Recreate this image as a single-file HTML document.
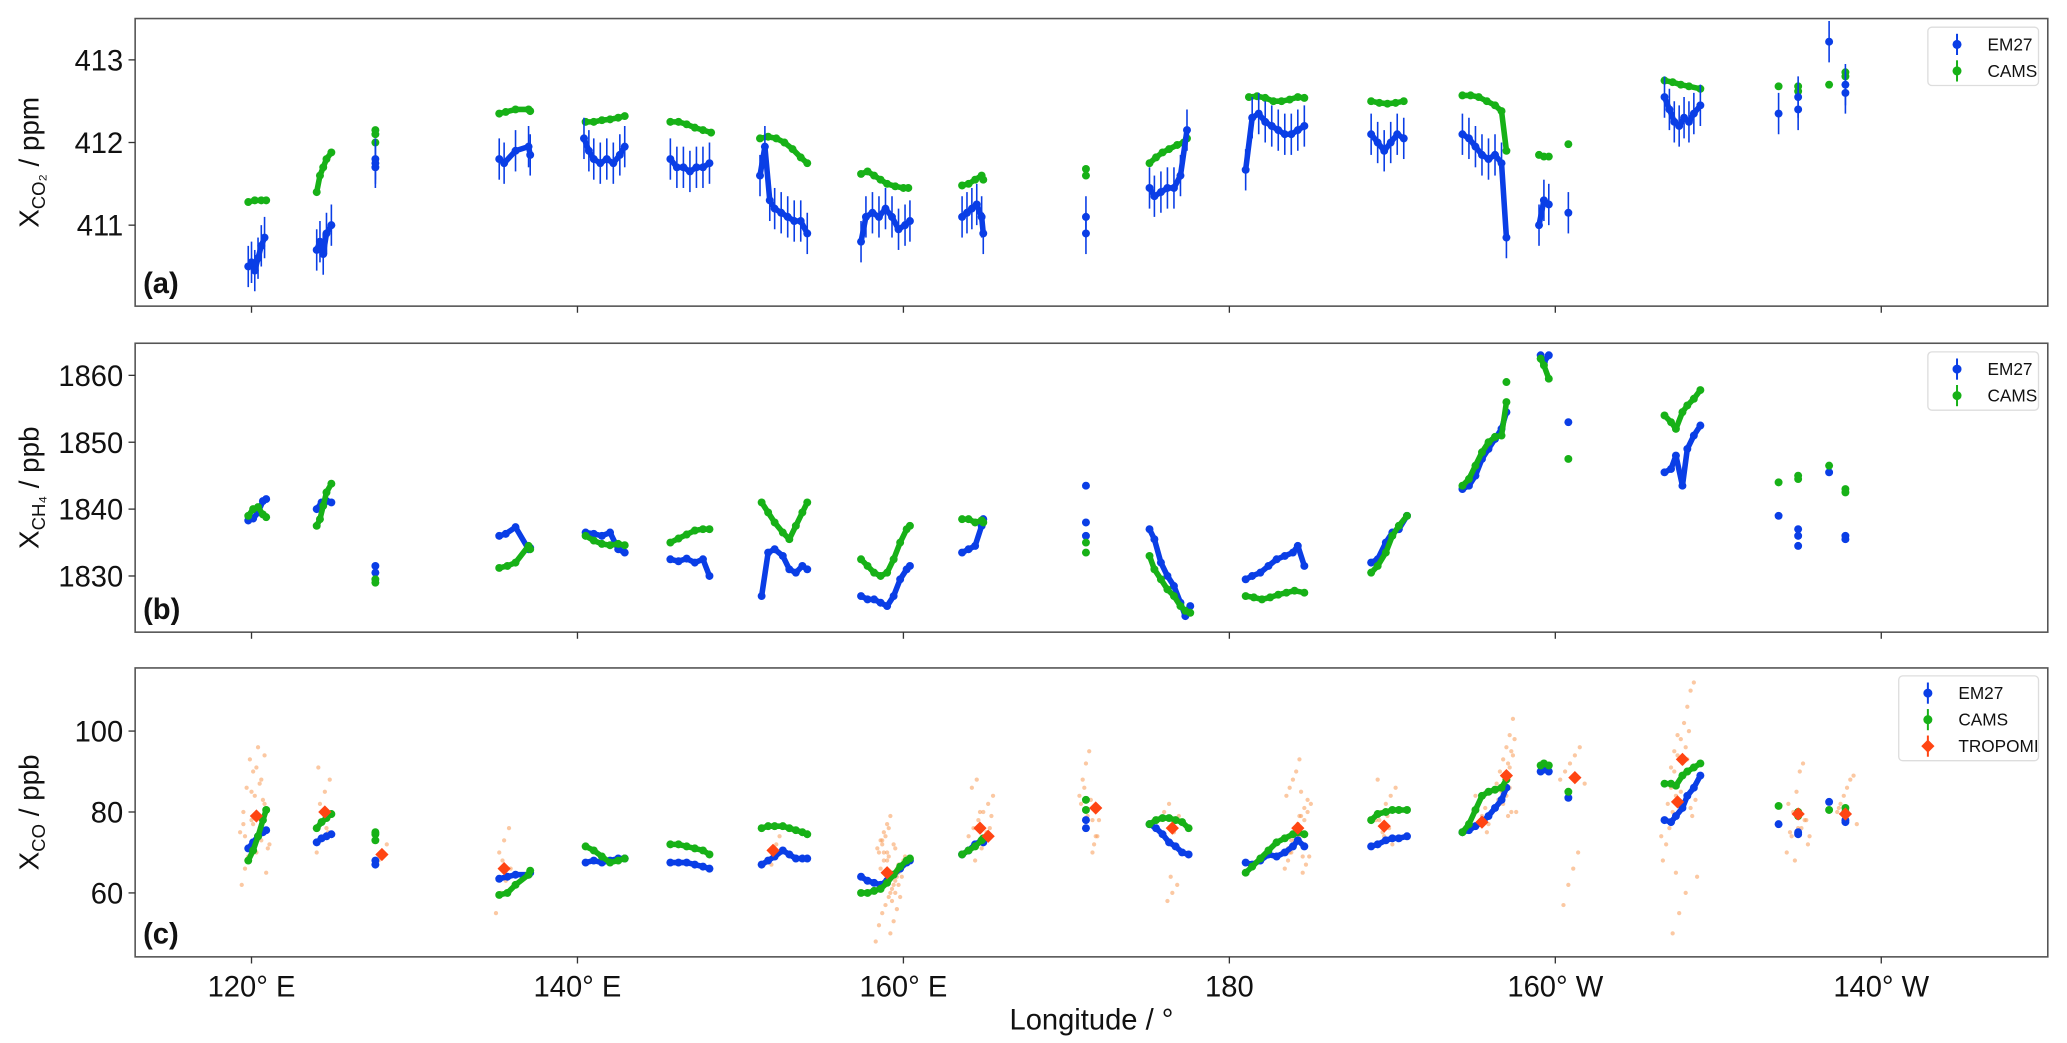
<!DOCTYPE html>
<html><head><meta charset="utf-8"><style>
html,body{margin:0;padding:0;background:#fff;}
svg{display:block;font-family:"Liberation Sans","DejaVu Sans",sans-serif;}
</style></head><body>
<svg id="chart" width="2067" height="1043" viewBox="0 0 1560 787" preserveAspectRatio="none" xmlns="http://www.w3.org/2000/svg"></svg>
<script>
// ---------- data ----------
const xTickLon = [120,140,160,180,200,220];
const xTickLabels = ["120° E","140° E","160° E","180","160° W","140° W"];
const aTicks = [411,412,413];
const bTicks = [1830,1840,1850,1860];
const cTicks = [60,80,100];

const aEmLon = [119.8,120.0,120.2,120.4,120.6,120.8, 124.0,124.2,124.4,124.6,124.9, 127.6,127.6,127.6, 135.2,135.5,136.2,137.0,137.1, 140.4,140.7,141.0,141.4,141.8,142.2,142.6,142.9, 145.7,146.1,146.5,146.9,147.3,147.7,148.1, 151.2,151.5,151.8,152.1,152.5,152.9,153.3,153.7,154.1, 157.4,157.7,158.1,158.5,158.9,159.3,159.7,160.1,160.4, 163.6,163.9,164.2,164.5,164.8,164.9, 171.2,171.2, 175.1,175.4,175.8,176.2,176.6,177.0,177.4, 181.0,181.4,181.8,182.2,182.6,183.0,183.4,183.8,184.2,184.6, 188.7,189.1,189.5,189.9,190.3,190.7, 194.3,194.7,195.1,195.5,195.9,196.3,196.7,197.0, 199.0,199.3,199.6,200.8, 206.7,207.0,207.3,207.6,207.9,208.2,208.5,208.9, 213.7,214.9,214.9,216.8,217.8,217.8];
const aEmVal = [410.5,410.55,410.45,410.6,410.75,410.85, 410.7,410.8,410.65,410.9,411.0, 411.7,411.8,411.75, 411.8,411.75,411.9,411.95,411.85, 412.05,411.9,411.8,411.75,411.8,411.75,411.85,411.95, 411.8,411.7,411.7,411.65,411.7,411.7,411.75, 411.6,411.95,411.3,411.2,411.15,411.1,411.05,411.05,410.9, 410.8,411.1,411.15,411.1,411.2,411.1,410.95,411.0,411.05, 411.1,411.15,411.2,411.25,411.1,410.9, 411.1,410.9, 411.45,411.35,411.4,411.45,411.45,411.6,412.15, 411.67,412.3,412.35,412.25,412.2,412.15,412.1,412.1,412.15,412.2, 412.1,412.0,411.9,412.0,412.1,412.05, 412.1,412.05,411.95,411.85,411.8,411.85,411.75,410.85, 411.0,411.3,411.25,411.15, 412.55,412.4,412.25,412.2,412.3,412.25,412.35,412.45, 412.35,412.4,412.55,413.22,412.7,412.6];
const aEmErr = 0.25;
const aCamsLon = [119.8,120.2,120.6,120.9, 124.0,124.2,124.4,124.6,124.9, 127.6,127.6,127.6, 135.2,135.6,136.2,137.0,137.1, 140.5,141.0,141.5,142.0,142.5,142.9, 145.7,146.2,146.7,147.2,147.7,148.2, 151.2,151.7,152.2,152.7,153.2,153.7,154.1, 157.4,157.8,158.2,158.6,159.0,159.5,160.0,160.3, 163.6,164.0,164.4,164.8,164.9, 171.2,171.2, 175.1,175.5,175.9,176.3,176.8,177.2,177.4, 181.2,181.7,182.2,182.7,183.2,183.7,184.2,184.6, 188.7,189.2,189.7,190.2,190.7, 194.3,194.8,195.3,195.8,196.3,196.7,197.0, 199.0,199.3,199.6,200.8, 206.7,207.2,207.7,208.2,208.9, 213.7,214.9,214.9,216.8,217.8,217.8];
const aCamsVal = [411.28,411.3,411.3,411.3, 411.4,411.6,411.7,411.8,411.88, 412.0,412.1,412.15, 412.35,412.37,412.4,412.4,412.38, 412.25,412.25,412.27,412.28,412.3,412.32, 412.25,412.25,412.22,412.18,412.15,412.12, 412.05,412.07,412.05,412.0,411.92,411.82,411.75, 411.62,411.65,411.6,411.55,411.5,411.47,411.45,411.45, 411.48,411.5,411.55,411.6,411.55, 411.68,411.6, 411.75,411.82,411.88,411.92,411.97,412.0,412.05, 412.55,412.56,412.54,412.5,412.5,412.52,412.55,412.54, 412.5,412.48,412.47,412.48,412.5, 412.57,412.57,412.55,412.5,412.45,412.38,411.9, 411.85,411.83,411.83,411.98, 412.75,412.73,412.7,412.68,412.65, 412.68,412.68,412.62,412.7,412.8,412.85];

const bEmLon = [119.8,120.1,120.4,120.7,120.9, 124.0,124.3,124.6,124.9, 127.6,127.6, 135.2,135.6,136.2,137.0,137.1, 140.5,141.0,141.5,142.0,142.5,142.9, 145.7,146.2,146.7,147.2,147.7,148.1, 151.3,151.7,152.1,152.6,153.0,153.4,153.8,154.1, 157.4,157.8,158.2,158.6,159.0,159.4,159.8,160.2,160.4, 163.6,164.0,164.4,164.8,164.9, 171.2,171.2,171.2, 175.1,175.4,175.8,176.2,176.6,177.0,177.3,177.6, 181.0,181.4,181.9,182.4,182.9,183.4,183.9,184.2,184.6, 188.7,189.1,189.6,190.0,190.4,190.9, 194.3,194.7,195.1,195.5,195.9,196.3,196.7,197.0, 199.1,199.3,199.6,200.8, 206.7,207.1,207.4,207.8,208.1,208.5,208.9, 213.7,214.9,214.9,214.9,216.8,217.8,217.8];
const bEmVal = [1838.3,1838.6,1839.5,1841.2,1841.5, 1840,1841,1841.2,1841, 1831.5,1830.5, 1836,1836.3,1837.3,1834,1834.2, 1836.5,1836.3,1836,1836.5,1834,1833.5, 1832.5,1832.2,1832.6,1832,1832.5,1830, 1827,1833.5,1834,1833,1831,1830.5,1831.5,1831, 1827,1826.5,1826.5,1826,1825.5,1827,1829.5,1831,1831.5, 1833.5,1834,1834.5,1837.5,1838.5, 1843.5,1838,1836, 1837,1835.5,1832,1830,1828.5,1826,1824,1825.5, 1829.5,1830,1830.5,1831.5,1832.5,1833,1833.5,1834.5,1831.5, 1832,1832.5,1835,1836.5,1837,1839, 1843,1843.5,1845,1847.5,1849,1850.5,1852,1854.5, 1863,1862,1863,1853, 1845.5,1846,1848,1843.5,1849,1851,1852.5, 1839,1834.5,1836,1837,1845.5,1835.5,1836];
const bCamsLon = [119.8,120.1,120.4,120.7,120.9, 124.0,124.2,124.4,124.6,124.9, 127.6,127.6, 135.2,135.7,136.2,137.0,137.1, 140.5,141.0,141.5,142.0,142.5,142.9, 145.7,146.2,146.7,147.2,147.7,148.1, 151.3,151.7,152.1,152.6,153.0,153.4,153.8,154.1, 157.4,157.8,158.2,158.6,159.0,159.4,159.8,160.2,160.4, 163.6,164.0,164.4,164.8,164.9, 171.2,171.2, 175.1,175.4,175.8,176.2,176.6,177.0,177.3,177.6, 181.0,181.5,182.0,182.5,183.0,183.5,184.0,184.6, 188.7,189.1,189.6,190.0,190.4,190.9, 194.3,194.7,195.1,195.5,195.9,196.3,196.7,197.0,197.0, 199.1,199.3,199.6,200.8, 206.7,207.1,207.4,207.8,208.1,208.5,208.9, 213.7,214.9,214.9,216.8,217.8,217.8];
const bCamsVal = [1839,1840,1840.3,1839.2,1838.8, 1837.5,1838.5,1840.5,1842.5,1843.8, 1829.5,1829, 1831.2,1831.5,1832,1834.5,1834, 1836,1835.3,1834.8,1834.6,1834.8,1834.6, 1835,1835.6,1836.2,1836.8,1837,1837, 1841,1839.5,1838,1836.5,1835.5,1837.5,1839.5,1841, 1832.5,1831.5,1830.5,1830,1830.5,1832.5,1835,1837,1837.5, 1838.5,1838.5,1838,1838.3,1838, 1835,1833.5, 1833,1831,1829.5,1828,1827,1825.5,1824.8,1824.5, 1827,1826.8,1826.5,1826.8,1827.2,1827.5,1827.8,1827.5, 1830.5,1831.5,1833.5,1836,1837.5,1839, 1843.5,1844.5,1846.5,1848.5,1850,1850.8,1851,1856,1859, 1862.5,1861.5,1859.5,1847.5, 1854,1853,1852,1854.5,1855.5,1856.5,1857.8, 1844,1845,1844.5,1846.5,1843,1842.5];

const cEmLon = [119.8,120.1,120.4,120.7,120.9, 124.0,124.3,124.6,124.9, 127.6,127.6, 135.2,135.7,136.2,137.0,137.1, 140.5,141.0,141.5,142.0,142.5,142.9, 145.7,146.2,146.7,147.2,147.7,148.1, 151.3,151.7,152.1,152.6,153.0,153.4,153.8,154.1, 157.4,157.8,158.2,158.6,159.0,159.4,159.8,160.2,160.4, 163.6,164.0,164.4,164.8,164.9, 171.2,171.2, 175.1,175.5,175.9,176.3,176.7,177.1,177.5, 181.0,181.4,181.9,182.4,182.9,183.4,183.9,184.2,184.6, 188.7,189.1,189.6,190.0,190.4,190.9, 194.3,194.7,195.1,195.5,195.9,196.3,196.7,197.0, 199.1,199.3,199.6,200.8, 206.7,207.1,207.4,207.8,208.1,208.5,208.9, 213.7,214.9,214.9,216.8,217.8,217.8];
const cEmVal = [71,72.5,74,75,75.5, 72.5,73.5,74,74.5, 67,68, 63.5,64,64.5,64.5,65, 67.5,68,67.5,68,68.5,68.5, 67.5,67.5,67.5,67,66.5,66, 67,68,69,70.5,69.5,68.5,68.5,68.5, 64,63,62.5,62,63,64.5,66,67.5,68, 69.5,70.5,72,73,72.5, 78,76, 77,76,74.5,72.5,71.5,70,69.5, 67.5,67,68,69.5,69,70,71.5,73,71.5, 71.5,72,73,73.5,73.5,74, 75,75.5,76.5,77.5,79,81,83,86, 90,90.5,90,83.5, 78,77.5,79,81,84,86,89, 77,75,74.5,82.5,77.5,78];
const cCamsLon = [119.8,120.1,120.4,120.7,120.9, 124.0,124.3,124.6,124.9, 127.6,127.6,127.6, 135.2,135.7,136.2,137.0,137.1, 140.5,141.0,141.5,142.0,142.5,142.9, 145.7,146.2,146.7,147.2,147.7,148.1, 151.3,151.7,152.1,152.6,153.0,153.4,153.8,154.1, 157.4,157.8,158.2,158.6,159.0,159.4,159.8,160.2,160.4, 163.6,164.0,164.4,164.8,164.9, 171.2,171.2, 175.1,175.5,175.9,176.3,176.7,177.1,177.5, 181.0,181.4,181.9,182.4,182.9,183.4,183.9,184.2,184.6, 188.7,189.1,189.6,190.0,190.4,190.9, 194.3,194.7,195.1,195.5,195.9,196.3,196.7,197.0, 199.1,199.3,199.6,200.8, 206.7,207.1,207.4,207.8,208.1,208.5,208.9, 213.7,214.9,214.9,216.8,217.8,217.8];
const cCamsVal = [68,70.5,74,78,80.5, 76,77.5,78.5,79.5, 73,74.5,75, 59.5,60,62,64.5,65.5, 71.5,70.5,69,67.5,68,68.5, 72,72,71.5,71,70.5,69.5, 76,76.5,76.5,76.5,76,75.5,75,74.5, 60,60,60.5,61,62.5,64.5,66.5,68,68.5, 69.5,70.5,71.5,73,73.5, 83,80.5, 77,78,78.5,78.5,78,77.5,76, 65,66.5,68.5,70.5,72.5,73.5,74.5,75,74.5, 78,79.5,80,80.5,80.5,80.5, 75,77,80.5,84,85,85.5,86,88, 91.5,92,91.5,85, 87,87,86.5,89,90,91,92, 81.5,80,79,80.5,81,80];
const cTropLon = [120.3,124.5,128.0,135.5,152.0,159.0,164.7,165.2,171.8,176.5,184.2,189.5,195.5,197.0,201.2,207.5,207.8,214.9,217.8];
const cTropVal = [79,80,69.5,66,70.5,65,76,74,81,76,76,76.5,77.5,89,88.5,82.5,93,79.5,79.5];

const scatLon = [119.4,120.9,119.8,120.3,121.1,119.6,120.5,120.0,119.5,120.8,120.2,119.7,120.6,120.1,119.9,120.4,121.0,119.5,120.7,120.2,119.3,120.9,120.0,120.5,119.8,120.6,120.3,119.6,120.8,120.1,
 124.0,124.3,124.6,124.9,124.2,124.5,124.8,124.1,124.7,124.4, 127.8,128.1,128.3, 135.0,135.3,135.6,135.9,135.2,135.5,135.8,135.4,
 151.8,152.0,152.2,152.4,151.9,
 158.3,158.5,158.7,158.9,159.1,159.3,159.5,159.7,159.9,160.1,158.4,158.6,158.8,159.0,159.2,159.4,159.6,159.8,160.0,158.5,158.7,158.9,159.1,159.3,159.5,159.7,159.9,158.6,158.8,159.0,159.2,159.4,159.6,159.8,158.4,158.9,159.3,159.7,159.1,159.5,158.7,159.2,159.6,159.0,158.8,159.4,
 164.0,164.3,164.6,164.9,165.2,165.5,164.2,164.5,164.8,165.1,165.4,164.4,164.9,165.3,164.7,
 170.8,171.0,171.2,171.4,171.6,171.8,172.0,170.9,171.1,171.3,171.5,171.7,171.9,171.2,171.6,
 176.0,176.3,176.6,176.9,176.2,176.5,176.8,176.4,
 183.4,183.6,183.8,184.0,184.2,184.4,184.6,184.8,185.0,183.5,183.7,183.9,184.1,184.3,184.5,184.7,184.9,183.6,183.8,184.0,184.2,184.4,184.6,184.8,183.9,184.1,184.3,184.5,184.0,184.2,184.4,183.7,184.6,184.3,184.1,
 189.0,189.3,189.6,189.9,190.2,189.1,189.4,189.7,190.0,189.5,189.8,189.2,
 195.0,195.3,195.6,195.9,195.2,195.5,195.8,195.4,195.7,195.1,
 196.4,196.6,196.8,197.0,197.2,197.4,197.6,196.5,196.7,196.9,197.1,197.3,197.5,196.6,196.8,197.0,197.2,197.4,196.7,196.9,197.1,197.3,196.8,197.0,197.2,
 200.3,200.6,200.9,201.2,201.5,201.8,200.5,200.8,201.1,201.4,
 206.5,206.7,206.9,207.1,207.3,207.5,207.7,207.9,208.1,208.3,208.5,208.7,206.6,206.8,207.0,207.2,207.4,207.6,207.8,208.0,208.2,208.4,208.6,206.9,207.1,207.3,207.5,207.7,207.9,208.1,208.3,207.2,207.6,208.0,207.4,
 214.2,214.4,214.6,214.8,215.0,215.2,215.4,215.6,214.3,214.7,215.1,215.5,214.5,214.9,215.3,
 217.3,217.5,217.7,217.9,218.1,218.3,218.5,217.4,217.8,218.2,217.6,218.0];
const scatVal = [62,65,68,70,72,74,76,78,80,82,84,86,88,90,93,96,71,77,83,79,75,81,85,87,69,73,91,66,94,77,
 70,73,76,79,82,85,88,91,75,78, 68,70,72, 55,60,63,66,70,73,76,68,
 68,70,72,74,67,
 48,52,55,57,59,61,63,65,67,69,71,73,75,77,79,62,64,66,68,70,72,74,76,58,60,62,64,66,68,70,50,53,56,59,61,63,65,67,69,71,73,60,
 66,68,70,72,74,76,78,80,82,84,86,88,71,75,79,
 68,72,76,80,84,88,92,95,70,74,78,82,86,79,83,
 72,74,76,78,80,82,75,79,
 58,60,62,64,66,68,70,72,74,76,78,80,82,84,86,88,90,93,65,67,69,71,73,75,77,79,81,83,71,75,79,69,73,77,85,
 70,72,74,76,78,80,82,84,86,88,75,79,
 72,74,76,78,80,82,84,77,81,79,
 75,78,81,84,87,90,93,96,99,103,80,83,86,89,92,95,98,82,85,88,91,94,85,88,79,
 80,82,84,86,88,90,92,94,96,87,
 57,62,66,70,74,78,82,86,90,94,98,102,106,110,112,64,68,72,76,80,84,88,92,96,100,79,83,87,91,95,99,85,89,93,81,
 50,55,60,65,70,75,80,85,90,92,78,74,82,68,76,
 72,74,76,78,80,82,84,86,88,89,77,81];

// ---------- layout ----------
const L = 102, R = 1545.5, lonMin = 112.86, pxPerDeg = 12.3;
const panels = {
  a:{top:14,bottom:231,min:410.02,max:413.5},
  b:{top:259,bottom:477,min:1821.6,max:1864.8},
  c:{top:504,bottom:722,min:44.2,max:115.6}
};
const X = lon => L + (lon - lonMin) * pxPerDeg;
const Y = (p,v) => p.bottom - (v - p.min) / (p.max - p.min) * (p.bottom - p.top);

const svg = document.getElementById('chart');
const NS = 'http://www.w3.org/2000/svg';
function mk(tag, attrs, parent){ const e = document.createElementNS(NS, tag); for (const k in attrs) e.setAttribute(k, attrs[k]); (parent||svg).appendChild(e); return e; }

const defs = mk('defs', {});
['a','b','c'].forEach(k => {
  const cp = mk('clipPath', {id:'clip-' + k}, defs);
  mk('rect', {x:L, y:panels[k].top, width:R-L, height:panels[k].bottom-panels[k].top}, cp);
});

const BLUE = '#0a3ee6', GREEN = '#17b117', RED = '#ff4513', ORANGE = '#f79a55';

function series(key, lons, vals, color, name, err, r){
  const p = panels[key];
  const g = mk('g', {'clip-path':'url(#clip-' + key + ')'});
  
  
  for (let i = 1; i < lons.length; i++){
    const d = Math.abs(lons[i]-lons[i-1]);
    if (d < 1.0 && d > 0){
      mk('line', {x1:X(lons[i-1]), y1:Y(p,vals[i-1]), x2:X(lons[i]), y2:Y(p,vals[i]), stroke:color, 'stroke-width':r*1.4, 'stroke-linecap':'round'}, g);
    }
  }
  for (let i = 0; i < lons.length; i++){
    const x = X(lons[i]), y = Y(p, vals[i]);
    if (err) mk('line', {x1:x, x2:x, y1:Y(p,vals[i]-err), y2:Y(p,vals[i]+err), stroke:color, 'stroke-width':1.2}, g);
    const c = mk('circle', {cx:x, cy:y, r:r, fill:color}, g);
    
    
  }
}

function frame(key, p, ticks, sub, unit, showX){
  const g = mk('g', {});
  
  
  mk('rect', {x:L, y:p.top, width:R-L, height:p.bottom-p.top, fill:'none', stroke:'#555', 'stroke-width':1.2}, g);
  ticks.forEach(t => {
    const y = Y(p, t);
    mk('line', {x1:L-5, x2:L, y1:y, y2:y, stroke:'#333', 'stroke-width':1}, g);
    const tx = mk('text', {x:L-9, y:y+8, 'text-anchor':'end', 'font-size':22, fill:'#111'}, g);
    tx.textContent = t;
    
    
  });
  xTickLon.forEach((lon,i) => {
    const x = X(lon);
    mk('line', {x1:x, x2:x, y1:p.bottom, y2:p.bottom+5, stroke:'#333', 'stroke-width':1}, g);
    if (showX){
      const tx = mk('text', {x:x, y:p.bottom+30, 'text-anchor':'middle', 'font-size':22, fill:'#111'}, g);
      tx.textContent = xTickLabels[i];
      
      
    }
  });
  const cy = (p.top + p.bottom)/2;
  const yl = mk('text', {x:0, y:0, transform:`translate(29,${cy}) rotate(-90)`, 'text-anchor':'middle', 'font-size':21, fill:'#111'}, g);
  yl.innerHTML = `X<tspan font-size="14" dy="5">${sub}</tspan><tspan dy="-5"> / ${unit}</tspan>`;
  
  
  const pl = mk('text', {x:L+6, y:p.bottom-10, 'font-size':22, 'font-weight':'bold', fill:'#111'}, g);
  pl.textContent = '(' + key + ')';
  
  
}

function legend(x, y, w, items){
  const g = mk('g', {});
  
  
  mk('rect', {x:x, y:y, width:w, height:items.length*20+4, rx:3, fill:'#fff', stroke:'#ddd', 'stroke-width':1}, g);
  items.forEach((it,i) => {
    const cy = y + 13 + i*20;
    const e = mk('g', {}, g);
    
    
    mk('line', {x1:x+22, x2:x+22, y1:cy-8, y2:cy+8, stroke:it[1], 'stroke-width':1.5}, e);
    if (it[2]==='d') mk('path', {d:`M${x+22} ${cy-5}L${x+27} ${cy}L${x+22} ${cy+5}L${x+17} ${cy}Z`, fill:it[1]}, e);
    else mk('circle', {cx:x+22, cy:cy, r:3.4, fill:it[1]}, e);
    const t = mk('text', {x:x+45, y:cy+4.5, 'font-size':13, fill:'#111'}, e);
    t.textContent = it[0];
  });
}

frame('a', panels.a, aTicks, 'CO₂', 'ppm', false);
frame('b', panels.b, bTicks, 'CH₄', 'ppb', false);
frame('c', panels.c, cTicks, 'CO', 'ppb', true);

series('a', aCamsLon, aCamsVal, GREEN, 'cams-co2', 0.02, 3.0);
series('a', aEmLon, aEmVal, BLUE, 'em27-co2', aEmErr, 3.0);
series('b', bEmLon, bEmVal, BLUE, 'em27-ch4', 0.4, 3.0);
series('b', bCamsLon, bCamsVal, GREEN, 'cams-ch4', 0, 3.0);
(function(){
  const g = mk('g', {'clip-path':'url(#clip-c)'});
  
  
  const n = Math.min(scatLon.length, scatVal.length);
  for (let i = 0; i < n; i++){
    mk('circle', {cx:X(scatLon[i]), cy:Y(panels.c, scatVal[i]), r:1.6, fill:ORANGE, 'fill-opacity':0.55}, g);
  }
})();
series('c', cEmLon, cEmVal, BLUE, 'em27-co', 0.5, 3.0);
series('c', cCamsLon, cCamsVal, GREEN, 'cams-co', 0, 3.0);
(function(){
  const g = mk('g', {'clip-path':'url(#clip-c)'});
  
  
  for (let i = 0; i < cTropLon.length; i++){
    const x = X(cTropLon[i]), y = Y(panels.c, cTropVal[i]);
    const d = mk('path', {d:`M${x} ${y-5}L${x+5} ${y}L${x} ${y+5}L${x-5} ${y}Z`, fill:RED}, g);
    
    
  }
})();

legend(1455, 20.5, 83.5, [['EM27',BLUE],['CAMS',GREEN]]);
legend(1455, 265.5, 83.5, [['EM27',BLUE],['CAMS',GREEN]]);
legend(1433, 510, 105.5, [['EM27',BLUE],['CAMS',GREEN],['TROPOMI',RED,'d']]);

const xt = mk('text', {x:(L+R)/2, y:777, 'text-anchor':'middle', 'font-size':22, fill:'#111'});
xt.textContent = 'Longitude / °';


</script>
</body></html>
